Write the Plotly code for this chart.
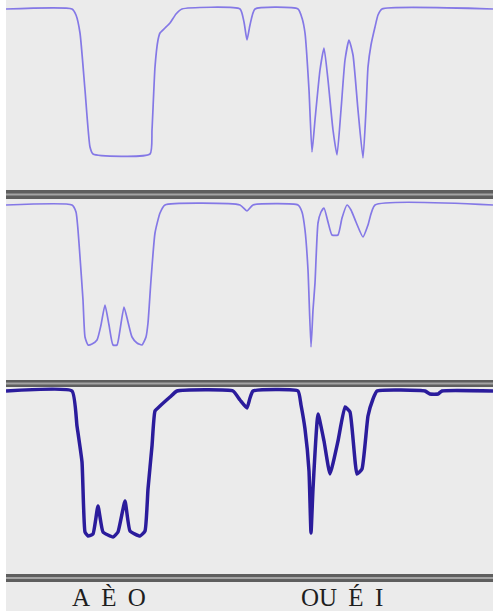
import plotly.graph_objects as go

# ---- data (time samples vs. signal depth) ----
t1 = [6, 72, 76, 80, 85, 90, 93, 150, 152, 155, 158, 160, 165, 170, 176, 182,
      240, 244, 247, 250, 255, 298, 302, 305, 309, 312, 315, 320, 324, 328, 333,
      337, 341, 345, 349, 353, 358, 363, 366, 368, 371, 375, 378, 382, 493]
d1 = [0, 0, 6, 24, 81, 138, 145, 145, 121, 58, 31, 24, 19, 14, 5, 0,
      0, 13, 31, 16, 0, 0, 9, 24, 81, 143, 111, 61, 39, 71, 121,
      146, 101, 51, 31, 46, 101, 149, 101, 58, 36, 18, 6, 0, 0]

t2 = [6, 72, 76, 78, 80, 83, 85, 88, 92, 97, 101, 105, 109, 113, 117, 120, 124,
      128, 132, 137, 142, 146, 148, 151, 155, 160, 165, 240, 247, 253, 298, 302,
      305, 308, 311, 313, 315, 318, 321, 324, 328, 332, 338, 342, 347, 351, 356,
      363, 368, 375, 493]
d2 = [0, 0, 7, 25, 52, 95, 132, 140, 139, 135, 120, 100, 120, 140, 140, 125, 102,
      117, 132, 138, 140, 132, 118, 75, 28, 8, 0, 0, 6, 0, 0, 7,
      25, 65, 142, 105, 78, 18, 7, 3, 17, 30, 30, 13, 0, 5, 17,
      32, 20, 0, 0]

t3 = [6, 72, 77, 82, 85, 88, 93, 98, 103, 113, 118, 125, 130, 140, 145,
      148, 152, 155, 160, 170, 177, 233, 240, 247, 250, 253, 298, 301,
      305, 309, 311, 313, 318, 324, 330, 338, 345, 350, 357, 362,
      368, 373, 377, 425, 430, 438, 442, 493]
d3 = [0, 0, 35, 71, 141, 145, 143, 115, 141, 146, 141, 110, 140, 145, 140,
      98, 55, 20, 15, 6, 0, 0, 9, 17, 7, 0, 0, 14,
      38, 80, 142, 98, 23, 50, 83, 50, 16, 21, 83, 78,
      25, 8, 0, 0, 3, 3, 0, 0]

labels = ["A\u00a0\u2009È\u00a0\u2009O", "OU\u00a0\u2009É\u00a0\u2009I"]
label_x = [109, 342]

# ---- layout helpers (pixel -> paper) ----
W, H = 493, 611
def py(p):
    return 1 - p / H

fig = go.Figure()
fig.add_trace(go.Scatter(x=t1, y=[-v for v in d1], mode="lines",
                         line=dict(color="#8478e6", width=1.7, shape="spline", smoothing=0.5),
                         xaxis="x", yaxis="y"))
fig.add_trace(go.Scatter(x=t2, y=[-v for v in d2], mode="lines",
                         line=dict(color="#8478e6", width=1.7, shape="spline", smoothing=0.5),
                         xaxis="x", yaxis="y2"))
fig.add_trace(go.Scatter(x=t3, y=[-v for v in d3], mode="lines",
                         line=dict(color="#2b1c9c", width=3.5, shape="spline", smoothing=0.4),
                         xaxis="x", yaxis="y3"))

ax = dict(visible=False, showgrid=False, zeroline=False, fixedrange=True)
fig.update_layout(
    width=W, height=H,
    margin=dict(l=0, r=0, t=0, b=0),
    paper_bgcolor="#ebebeb", plot_bgcolor="rgba(0,0,0,0)",
    showlegend=False,
    xaxis=dict(ax, domain=[6 / W, 1], range=[6, 493]),
    yaxis=dict(ax, domain=[py(190), py(0)], range=[-181, 9]),
    yaxis2=dict(ax, domain=[py(381), py(199)], range=[-176, 6]),
    yaxis3=dict(ax, domain=[py(574), py(387)], range=[-183, 4]),
)

shapes = [dict(type="rect", xref="paper", yref="paper", x0=0, x1=6 / W, y0=0, y1=1,
               fillcolor="white", line_width=0, layer="below")]
for top, bot in [(190, 199), (380, 387), (574, 582)]:
    shapes.append(dict(type="rect", xref="paper", yref="paper", x0=6 / W, x1=1,
                       y0=py(bot), y1=py(top), fillcolor="#5e5e5e", line_width=0))
    mid = (top + bot) / 2
    shapes.append(dict(type="rect", xref="paper", yref="paper", x0=6 / W, x1=1,
                       y0=py(mid + 1), y1=py(mid - 1), fillcolor="#a4a4a4", line_width=0))
fig.update_layout(shapes=shapes)

for txt, xv in zip(labels, label_x):
    fig.add_annotation(x=xv, xref="x", y=py(597), yref="paper", text=txt,
                       showarrow=False, yanchor="middle", borderpad=0,
                       font=dict(family="Liberation Serif", size=25, color="#1e1e1e"))

fig.write_html("out.html", config={"displayModeBar": False},
               post_script="document.body.style.margin='0';document.body.style.overflow='hidden';")
